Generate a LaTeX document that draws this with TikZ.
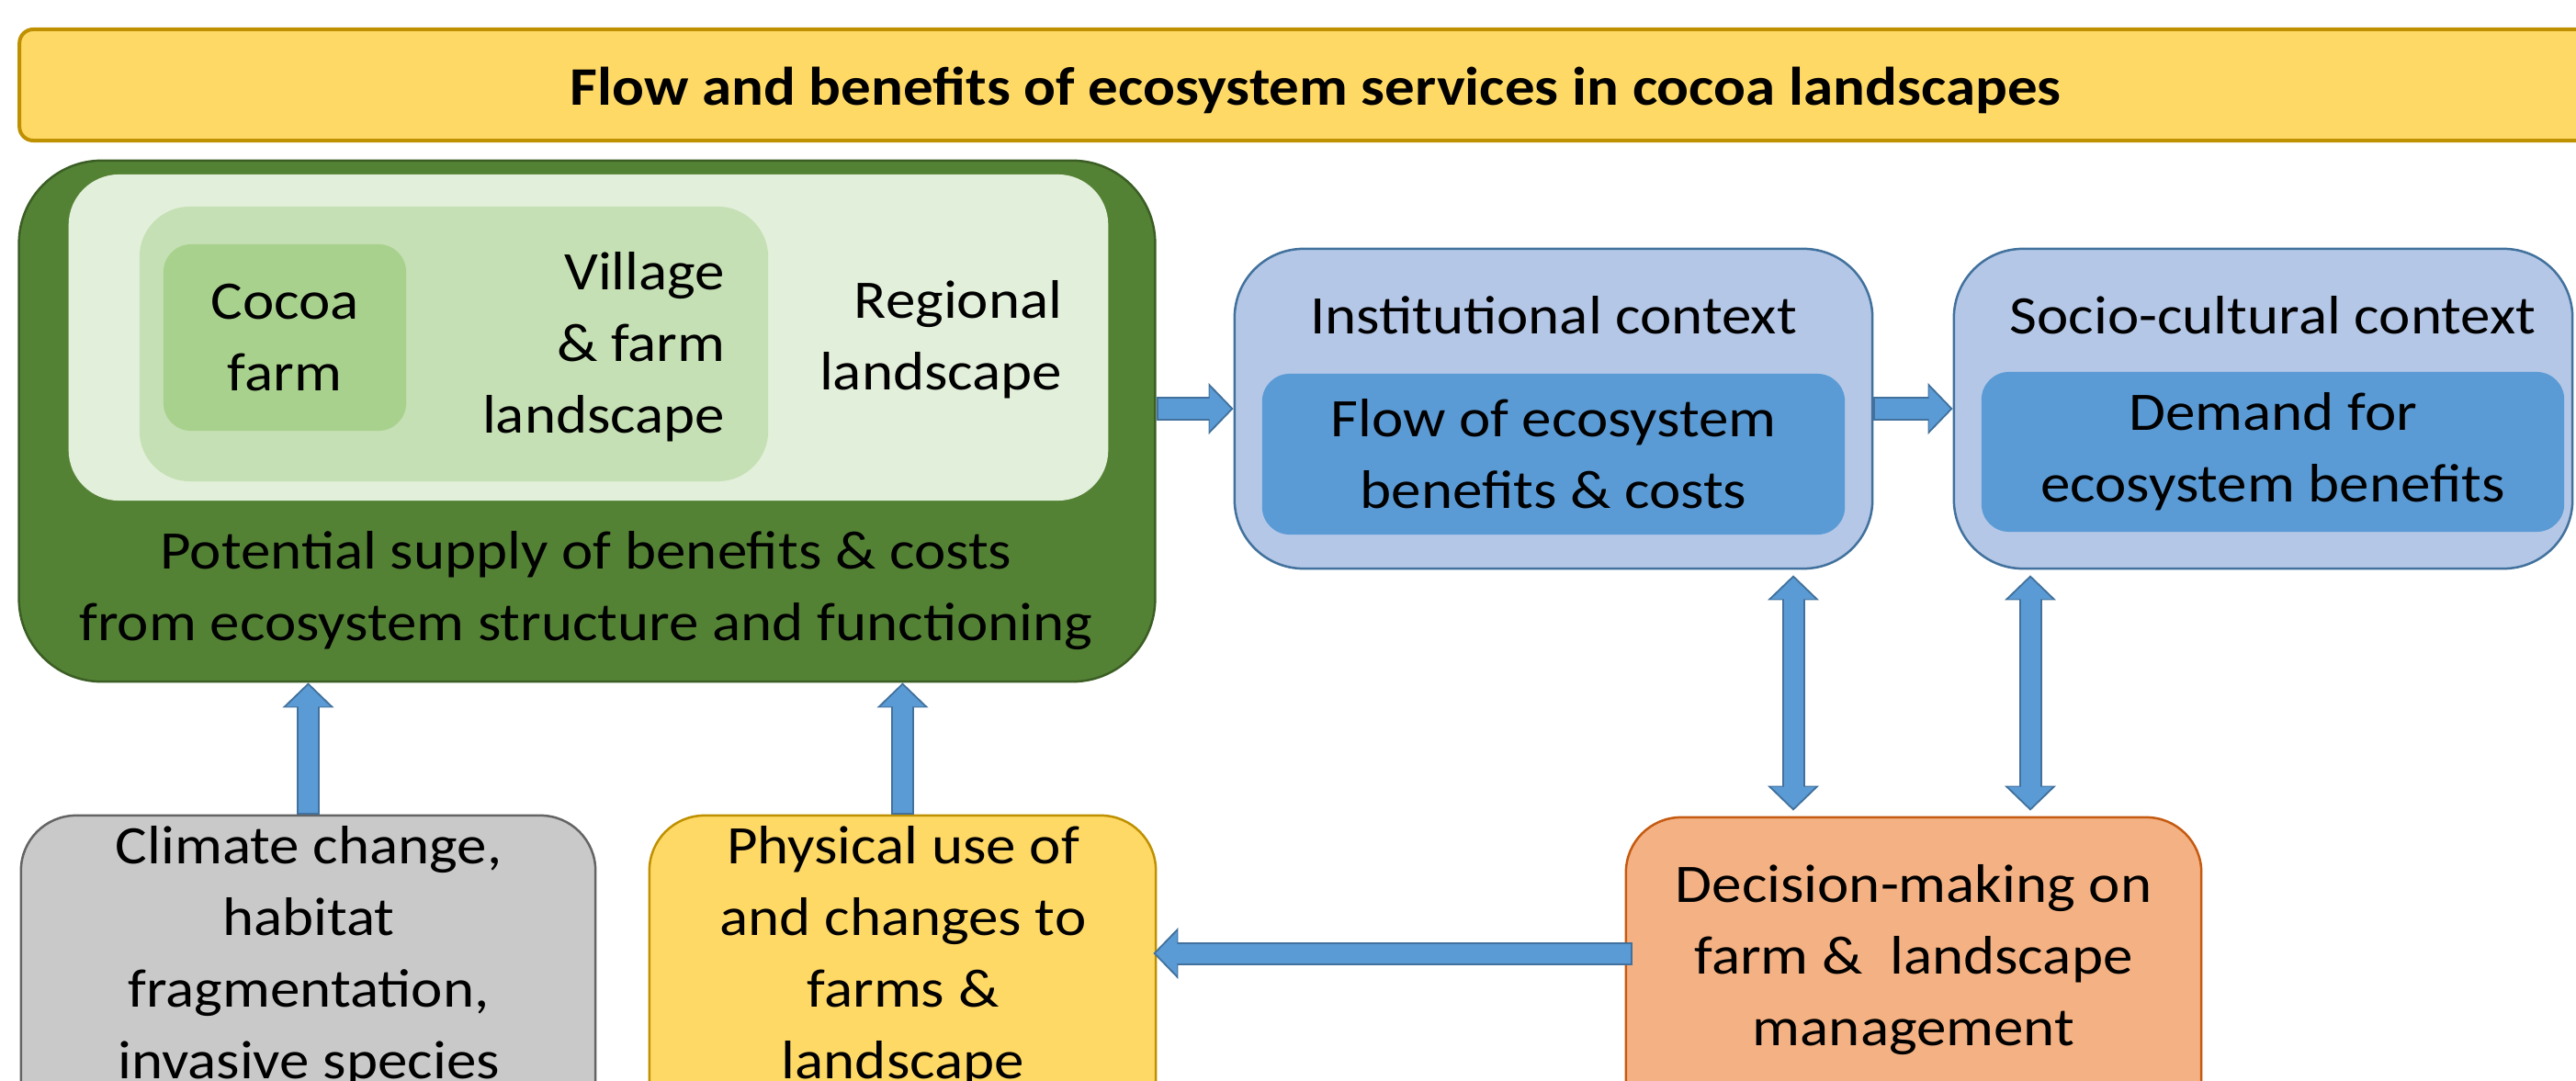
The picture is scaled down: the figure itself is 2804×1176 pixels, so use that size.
\documentclass[tikz,border=0pt]{standalone}
\usepackage{fontspec}
\setmainfont{Carlito}[FakeStretch=1.1]
\usetikzlibrary{arrows.meta}
\definecolor{titlefill}{HTML}{FFD966}
\definecolor{titleedge}{HTML}{BF9000}
\definecolor{supplyfill}{HTML}{548235}
\definecolor{supplyedge}{HTML}{3B5E24}
\definecolor{regionfill}{HTML}{E2EFDA}
\definecolor{villagefill}{HTML}{C5E0B4}
\definecolor{farmfill}{HTML}{A9D18E}
\definecolor{contextfill}{HTML}{B4C7E7}
\definecolor{contextedge}{HTML}{41719C}
\definecolor{benefitfill}{HTML}{5B9BD5}
\definecolor{driverfill}{HTML}{C9C9C9}
\definecolor{driveredge}{HTML}{646464}
\definecolor{decisionfill}{HTML}{F4B183}
\definecolor{decisionedge}{HTML}{C55A11}
\definecolor{arrowfill}{HTML}{5B9BD5}
\definecolor{arrowedge}{HTML}{41719C}
\begin{document}
\begin{tikzpicture}[x=0.01cm,y=-0.01cm,
  txt/.style={align=center,inner sep=0pt,font=\fontsize{16.8}{22.2}\selectfont},
  box/.style={inner sep=0pt,line width=0.025cm},
  flowline/.style={draw=arrowedge,line width=0.25cm,-{Triangle[length=0.27cm,width=0.56cm,line width=0pt]}},
  flowfill/.style={draw=arrowfill,line width=0.21cm,shorten <=0.02cm,shorten >=0.027cm,-{Triangle[length=0.233cm,width=0.48cm,line width=0pt]}},
  bothline/.style={draw=arrowedge,line width=0.25cm,{Triangle[length=0.27cm,width=0.56cm,line width=0pt]}-{Triangle[length=0.27cm,width=0.56cm,line width=0pt]}},
  bothfill/.style={draw=arrowfill,line width=0.21cm,shorten <=0.027cm,shorten >=0.027cm,{Triangle[length=0.233cm,width=0.48cm,line width=0pt]}-{Triangle[length=0.233cm,width=0.48cm,line width=0pt]}}]
\useasboundingbox (0,0) rectangle (2804,1176);
\clip (0,0) rectangle (2804,1176);

% Title bar
\node (title) [box,draw=titleedge,fill=titlefill,line width=0.04cm,rounded corners=0.15cm,minimum width=28.2cm,minimum height=1.21cm] at (1432,92.5) {};
\node (titletext) [txt,font=\fontsize{16.8}{22.2}\selectfont\bfseries] at (1432,98) {Flow and benefits of ecosystem services in cocoa landscapes};

% Potential supply, with the nested landscape levels
\node (supply) [box,draw=supplyedge,fill=supplyfill,rounded corners=0.9cm,minimum width=12.36cm,minimum height=5.67cm] at (639,458.5) {};
\node (regional) [box,fill=regionfill,rounded corners=0.55cm,minimum width=11.31cm,minimum height=3.55cm] at (640.5,367.5) {};
\node (village) [box,fill=villagefill,rounded corners=0.55cm,minimum width=6.84cm,minimum height=2.99cm] at (494,374.5) {};
\node (farm) [box,txt,fill=farmfill,rounded corners=0.3cm,minimum width=2.64cm,minimum height=2.03cm] at (310,367.5) {Cocoa\\farm};
\node (villagetext) [txt,anchor=east,align=right] at (790,378) {Village\\\& farm\\landscape};
\node (regionaltext) [txt,anchor=east,align=right] at (1157,370) {Regional\\landscape};
\node (supplytext) [txt] at (638,643) {Potential supply of benefits \& costs\\from ecosystem structure and functioning};

% Institutional context
\node (inst) [box,draw=contextedge,fill=contextfill,rounded corners=0.75cm,minimum width=6.94cm,minimum height=3.48cm] at (1691,445) {};
\node (insttext) [txt] at (1691,343) {Institutional context};
\node (flow) [box,txt,fill=benefitfill,rounded corners=0.3cm,minimum width=6.34cm,minimum height=1.75cm] at (1691,494.5) {Flow of ecosystem\\benefits \& costs};

% Socio-cultural context
\node (socio) [box,draw=contextedge,fill=contextfill,rounded corners=0.75cm,minimum width=6.73cm,minimum height=3.48cm] at (2463.5,445) {};
\node (sociotext) [txt] at (2474,343) {Socio-cultural context};
\node (demand) [box,txt,fill=benefitfill,rounded corners=0.3cm,minimum width=6.34cm,minimum height=1.74cm] at (2474,492) {Demand for\\ecosystem benefits};

% Drivers, use and decisions (cut by the lower edge)
\node (climate) [box,draw=driveredge,fill=driverfill,rounded corners=0.6cm,minimum width=6.25cm,minimum height=4cm] at (335.5,1088) {};
\node (climatetext) [txt] at (336,1042) {Climate change,\\habitat\\fragmentation,\\invasive species};
\node (phys) [box,draw=titleedge,fill=titlefill,rounded corners=0.6cm,minimum width=5.51cm,minimum height=4cm] at (982.5,1088) {};
\node (phystext) [txt] at (983,1042) {Physical use of\\and changes to\\farms \&\\landscape};
\node (dec) [box,draw=decisionedge,fill=decisionfill,rounded corners=0.6cm,minimum width=6.26cm,minimum height=4cm] at (2083,1090) {};
\node (dectext) [txt] at (2083,1045) {Decision-making on\\farm \&\ \ landscape\\management};

\coordinate (d1) at (1952,0);
\coordinate (d2) at (2210,0);
\coordinate (m) at (0,1038);

% Arrows
\draw [flowline] (supply.east |- inst.west) -- (inst.west);
\draw [flowfill] (supply.east |- inst.west) -- (inst.west);
\draw [flowline] (inst.east) -- (socio.west);
\draw [flowfill] (inst.east) -- (socio.west);
\draw [flowline] (climate.north) -- (climate.north |- supply.south);
\draw [flowfill] (climate.north) -- (climate.north |- supply.south);
\draw [flowline] (phys.north) -- (phys.north |- supply.south);
\draw [flowfill] (phys.north) -- (phys.north |- supply.south);
\draw [bothline,shorten <=0.06cm,shorten >=0.06cm] (inst.south -| d1) -- (dec.north -| d1);
\draw [bothfill,shorten <=0.087cm,shorten >=0.087cm] (inst.south -| d1) -- (dec.north -| d1);
\draw [bothline,shorten <=0.06cm,shorten >=0.06cm] (socio.south -| d2) -- (dec.north -| d2);
\draw [bothfill,shorten <=0.087cm,shorten >=0.087cm] (socio.south -| d2) -- (dec.north -| d2);
\draw [flowline,shorten <=-0.08cm,shorten >=-0.04cm] (dec.west |- m) -- (phys.east |- m);
\draw [flowfill,shorten <=-0.06cm,shorten >=-0.013cm] (dec.west |- m) -- (phys.east |- m);
\end{tikzpicture}
\end{document}
